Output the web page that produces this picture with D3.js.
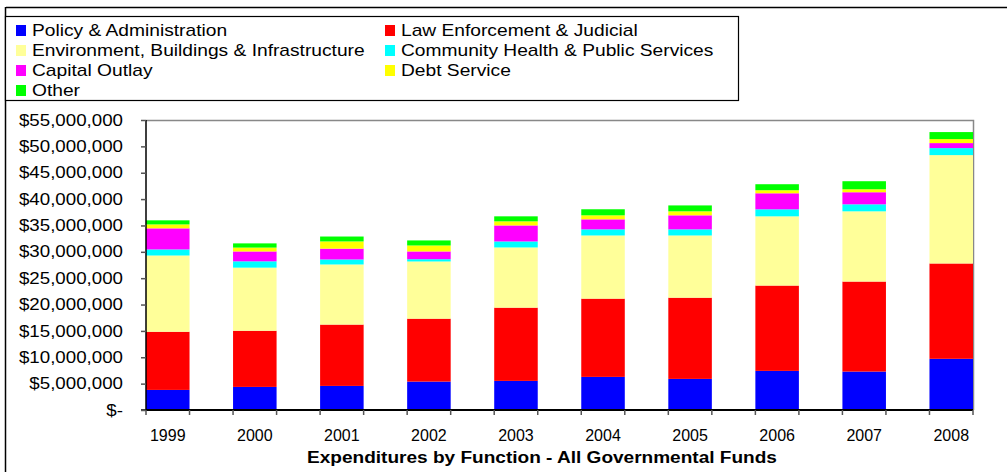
<!DOCTYPE html>
<html><head><meta charset="utf-8">
<script src="https://cdn.jsdelivr.net/npm/d3@7"></script>
<style>body{margin:0;background:#fff}svg{display:block}text{font-family:"Liberation Sans",Arial,sans-serif}</style>
</head><body>
<svg id="c" width="1007" height="472"></svg>
<script>
const years = ["1999","2000","2001","2002","2003","2004","2005","2006","2007","2008"];
const seriesNames = ["Policy & Administration","Law Enforcement & Judicial","Environment, Buildings & Infrastructure","Community Health & Public Services","Capital Outlay","Debt Service","Other"];
const seriesColors = ["#0000FF","#FF0000","#FFFF99","#00FFFF","#FF00FF","#FFFF00","#00FF00"];
const policyAdmin = [3810000,4380000,4570000,5390000,5520000,6280000,5900000,7420000,7290000,9710000];
const lawEnforcement = [11030000,10650000,11630000,11930000,13890000,14840000,15400000,16180000,17070000,18080000];
const environment = [14460000,11970000,11400000,10850000,11420000,11980000,11800000,13130000,13320000,20550000];
const communityHealth = [1150000,1200000,950000,430000,1140000,1160000,1160000,1330000,1330000,1330000];
const capitalOutlay = [4000000,1870000,2050000,1470000,3030000,1900000,2660000,3040000,2290000,950000];
const debtService = [750000,730000,1370000,1130000,780000,760000,760000,580000,570000,760000];
const other = [770000,800000,930000,960000,950000,1150000,1120000,1140000,1520000,1330000];
const yTicks = [0,5e6,10e6,15e6,20e6,25e6,30e6,35e6,40e6,45e6,50e6,55e6];
const title = "Expenditures by Function - All Governmental Funds";

(function(){
const seriesValues = [policyAdmin,lawEnforcement,environment,communityHealth,capitalOutlay,debtService,other];
const rows = years.map((yr,i)=>{const o={year:yr};seriesNames.forEach((s,k)=>o[s]=seriesValues[k][i]);return o;});
const stacked = d3.stack().keys(seriesNames)(rows);

const svg = d3.select("#c");
const pL=146, pR=973, pT=120, pB=410;
const x = d3.scaleBand().domain(years).range([pL, pR]).paddingInner(0.5).paddingOuter(0);
const y = d3.scaleLinear().domain([0,55e6]).range([pB, pT]);

// outer frame
svg.append("line").attr("x1",6).attr("x2",1007).attr("y1",7.5).attr("y2",7.5).attr("stroke","#000").attr("stroke-width",1.5);
svg.append("line").attr("x1",5.5).attr("x2",5.5).attr("y1",7).attr("y2",472).attr("stroke","#000").attr("stroke-width",1.5);

// plot border
svg.append("path").attr("d",`M${pL},${pT+0.5}H${pR+0.5}V${pB}`).attr("fill","none").attr("stroke","#888").attr("stroke-width",1.5);

// bars
svg.append("g").selectAll("g").data(stacked).join("g").attr("fill",(d,i)=>seriesColors[i])
  .selectAll("rect").data(d=>d).join("rect")
  .attr("x",d=>x(d.data.year)).attr("width",x.bandwidth())
  .attr("y",d=>y(d[1])).attr("height",d=>y(d[0])-y(d[1]));

// y axis
const yAxis = d3.axisLeft(y).tickValues(yTicks).tickSize(5).tickPadding(23)
  .tickFormat(v=> v===0 ? "$-" : "$"+d3.format(",")(v));
const gy = svg.append("g").attr("transform",`translate(${pL},0)`).call(yAxis);
gy.select(".domain").attr("stroke","#000").attr("stroke-width",1.5).attr("d",`M-5,${pB}H0V${pT}`);
gy.selectAll(".tick line").attr("stroke","#555").attr("stroke-width",1.5);
gy.selectAll("text").attr("font-size",16).attr("fill","#000").attr("font-family","Liberation Sans, Arial, sans-serif")
  .attr("x",0).attr("transform","translate(-23,0) scale(1.17,1)");

// x axis
svg.append("line").attr("x1",pL).attr("x2",pR).attr("y1",pB).attr("y2",pB).attr("stroke","#000").attr("stroke-width",2);
const edges = [];
years.forEach(yr=>{edges.push(x(yr)); edges.push(x(yr)+x.bandwidth());});
svg.append("g").selectAll("line").data(edges).join("line")
  .attr("x1",d=>d).attr("x2",d=>d).attr("y1",pB).attr("y2",pB+5).attr("stroke","#555").attr("stroke-width",1.5);
svg.append("g").selectAll("text").data(years).join("text")
  .attr("x",d=>x(d)+x.bandwidth()/2).attr("y",441).attr("text-anchor","middle")
  .attr("font-size",16).attr("fill","#000").text(d=>d);

// title
svg.append("text").attr("transform","translate(542,463) scale(1.19,1)").attr("text-anchor","middle")
  .attr("font-size",16).attr("font-weight","bold").attr("fill","#000").text(title);

// legend
svg.append("rect").attr("x",5.5).attr("y",16.5).attr("width",733).attr("height",84).attr("fill","#fff").attr("stroke","#000").attr("stroke-width",1.2);
const lg = svg.append("g").selectAll("g").data(seriesNames).join("g")
  .attr("transform",(d,i)=>`translate(${i%2===0?16:385},${30+Math.floor(i/2)*20})`);
lg.append("rect").attr("x",0).attr("y",-5).attr("width",10).attr("height",11).attr("fill",(d,i)=>seriesColors[i]);
lg.append("text").attr("transform","translate(16,6) scale(1.2,1)").attr("font-size",16).attr("fill","#000").text(d=>d);
})();
</script>
</body></html>
